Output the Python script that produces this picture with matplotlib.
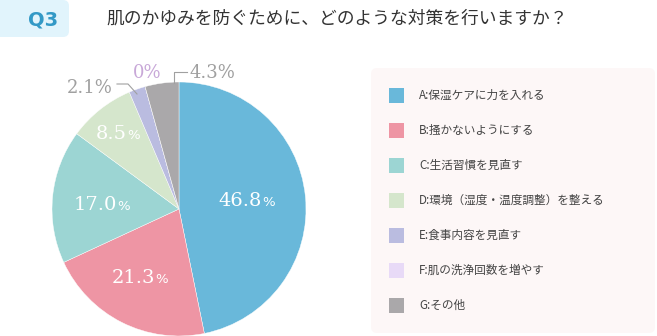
import matplotlib
matplotlib.use("Agg")
import matplotlib.pyplot as plt
from matplotlib.patches import FancyBboxPatch

plt.rcParams['font.family'] = ['Noto Sans CJK JP', 'DejaVu Sans']

W, H = 657, 336

title = "肌のかゆみを防ぐために、どのような対策を行いますか？"
labels = ["A:保湿ケアに力を入れる", "B:掻かないようにする", "C:生活習慣を見直す",
          "D:環境（湿度・温度調整）を整える", "E:食事内容を見直す",
          "F:肌の洗浄回数を増やす", "G:その他"]
values = [46.8, 21.3, 17.0, 8.5, 2.1, 0.0, 4.3]
colors = ["#69b8da", "#ee95a4", "#9cd5d3", "#d5e6cc", "#babce0", "#e8daf7", "#aaa8aa"]

fig = plt.figure(figsize=(W / 100, H / 100), dpi=100)
ax = fig.add_axes([0, 0, 1, 1])

def py(y):
    # pixel row (from top) -> data y
    return H - y

# header
ax.add_patch(FancyBboxPatch((-10, py(37)), 79, 37, boxstyle="round,pad=0,rounding_size=6",
                            fc="#e1f4fc", ec="none"))
ax.text(43, py(20), "Q3", fontsize=14, fontweight="bold", color="#3399c6",
        ha="center", va="center", family="DejaVu Sans")
ax.text(106, py(19), title, fontsize=12.8, color="#333333", ha="left", va="center")

# pie
ax.pie(values, colors=colors, startangle=90, counterclock=False,
       center=(179, py(209)), radius=127, frame=True,
       wedgeprops=dict(edgecolor="white", linewidth=0.3))
ax.set_xlim(0, W)
ax.set_ylim(0, H)
ax.set_aspect("auto")
ax.axis("off")

serif = "DejaVu Serif"
# inside labels: (x split, baseline)
inside = [(262, 206), (155, 283), (117, 210), (127, 139)]
for i, (x, y) in enumerate(inside):
    ax.text(x, py(y), f"{values[i]:.1f}", fontsize=14, color="white", family=serif,
            ha="right", va="baseline")
    ax.text(x, py(y), "%", fontsize=9.5, color="white", family="DejaVu Sans",
            ha="left", va="baseline")

gray = "#a0a0a0"
ax.text(67, py(93), f"{values[4]:.1f}%", fontsize=13, color=gray, family=serif,
        ha="left", va="baseline")
ax.text(133, py(78), f"{values[5]:.0f}%", fontsize=13, color="#c8a8d8", family=serif,
        ha="left", va="baseline")
ax.text(190, py(78), f"{values[6]:.1f}%", fontsize=13, color=gray, family=serif,
        ha="left", va="baseline")
ax.plot([117, 128, 137], [py(84), py(84), py(94)], color=gray, lw=0.8)
ax.plot([187, 174, 174], [py(72), py(72), py(83)], color=gray, lw=0.8)

# legend
ax.add_patch(FancyBboxPatch((371, py(333)), 284, 265, boxstyle="round,pad=0,rounding_size=6",
                            fc="#fdf7f7", ec="none"))
for i, lab in enumerate(labels):
    yc = 95 + 35 * i
    ax.add_patch(plt.Rectangle((389, py(yc + 7.5)), 15, 15, fc=colors[i], ec="none"))
    ax.text(419, py(yc), lab, fontsize=8.4, color="#444444", ha="left", va="center")

fig.savefig("out.png", dpi=100)
